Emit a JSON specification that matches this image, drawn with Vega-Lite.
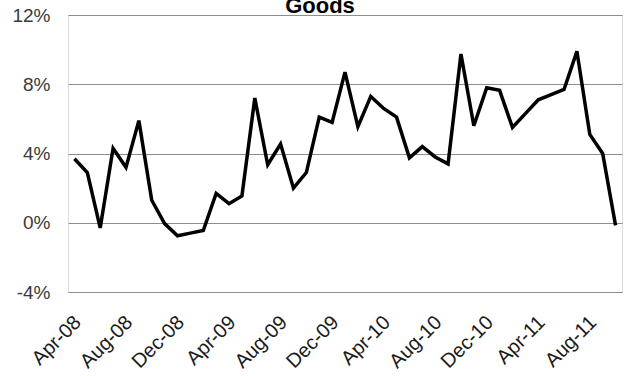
{
  "$schema": "https://vega.github.io/schema/vega-lite/v6.json",
  "width": 554,
  "height": 277,
  "autosize": "none",
  "padding": {"left": 68, "top": 15, "right": 3, "bottom": 84},
  "background": "white",
  "title": {
    "text": "Goods",
    "font": "Liberation Sans",
    "fontSize": 22,
    "fontWeight": "bold",
    "color": "#000000",
    "anchor": "middle",
    "frame": "group",
    "dx": -25,
    "offset": -29,
    "baseline": "alphabetic"
  },
  "data": {
    "values": [
      {"month": "Apr-08", "value": 3.7},
      {"month": "May-08", "value": 2.9},
      {"month": "Jun-08", "value": -0.3},
      {"month": "Jul-08", "value": 4.3},
      {"month": "Aug-08", "value": 3.2},
      {"month": "Sep-08", "value": 5.9},
      {"month": "Oct-08", "value": 1.3},
      {"month": "Nov-08", "value": -0.05},
      {"month": "Dec-08", "value": -0.75},
      {"month": "Jan-09", "value": -0.6},
      {"month": "Feb-09", "value": -0.45},
      {"month": "Mar-09", "value": 1.7},
      {"month": "Apr-09", "value": 1.1},
      {"month": "May-09", "value": 1.55},
      {"month": "Jun-09", "value": 7.2},
      {"month": "Jul-09", "value": 3.35},
      {"month": "Aug-09", "value": 4.55},
      {"month": "Sep-09", "value": 2.0},
      {"month": "Oct-09", "value": 2.9},
      {"month": "Nov-09", "value": 6.1},
      {"month": "Dec-09", "value": 5.8},
      {"month": "Jan-10", "value": 8.7},
      {"month": "Feb-10", "value": 5.55},
      {"month": "Mar-10", "value": 7.3},
      {"month": "Apr-10", "value": 6.6},
      {"month": "May-10", "value": 6.1},
      {"month": "Jun-10", "value": 3.75},
      {"month": "Jul-10", "value": 4.4},
      {"month": "Aug-10", "value": 3.8},
      {"month": "Sep-10", "value": 3.4},
      {"month": "Oct-10", "value": 9.75},
      {"month": "Nov-10", "value": 5.6},
      {"month": "Dec-10", "value": 7.8},
      {"month": "Jan-11", "value": 7.65},
      {"month": "Feb-11", "value": 5.5},
      {"month": "Mar-11", "value": 6.3},
      {"month": "Apr-11", "value": 7.1},
      {"month": "May-11", "value": 7.4},
      {"month": "Jun-11", "value": 7.7},
      {"month": "Jul-11", "value": 9.9},
      {"month": "Aug-11", "value": 5.1},
      {"month": "Sep-11", "value": 4.0},
      {"month": "Oct-11", "value": -0.15}
    ]
  },
  "mark": {"type": "line", "color": "#000000", "strokeWidth": 3.5, "strokeJoin": "miter"},
  "encoding": {
    "x": {
      "field": "month",
      "type": "ordinal",
      "sort": null,
      "scale": {"type": "point", "padding": 0.5},
      "axis": {
        "title": null,
        "values": ["Apr-08", "Aug-08", "Dec-08", "Apr-09", "Aug-09", "Dec-09", "Apr-10", "Aug-10", "Dec-10", "Apr-11", "Aug-11"],
        "labelAngle": -45,
        "labelAlign": "right",
        "labelBaseline": "middle",
        "labelPadding": 27,
        "labelOffset": 3,
        "labelFont": "Liberation Sans",
        "labelFontSize": 20,
        "labelColor": "#1a1a1a",
        "labelOverlap": false,
        "domain": false,
        "ticks": false,
        "grid": false
      }
    },
    "y": {
      "field": "value",
      "type": "quantitative",
      "scale": {"domain": [-4, 12], "nice": false, "zero": false},
      "axis": {
        "title": null,
        "values": [-4, 0, 4, 8, 12],
        "labelExpr": "datum.value + '%'",
        "labelFont": "Liberation Sans",
        "labelFontSize": 19,
        "labelColor": "#3a3a3a",
        "labelPadding": 18,
        "domain": false,
        "ticks": false,
        "grid": true,
        "gridColor": "#8c8c8c",
        "gridWidth": 1.2
      }
    }
  }
}
